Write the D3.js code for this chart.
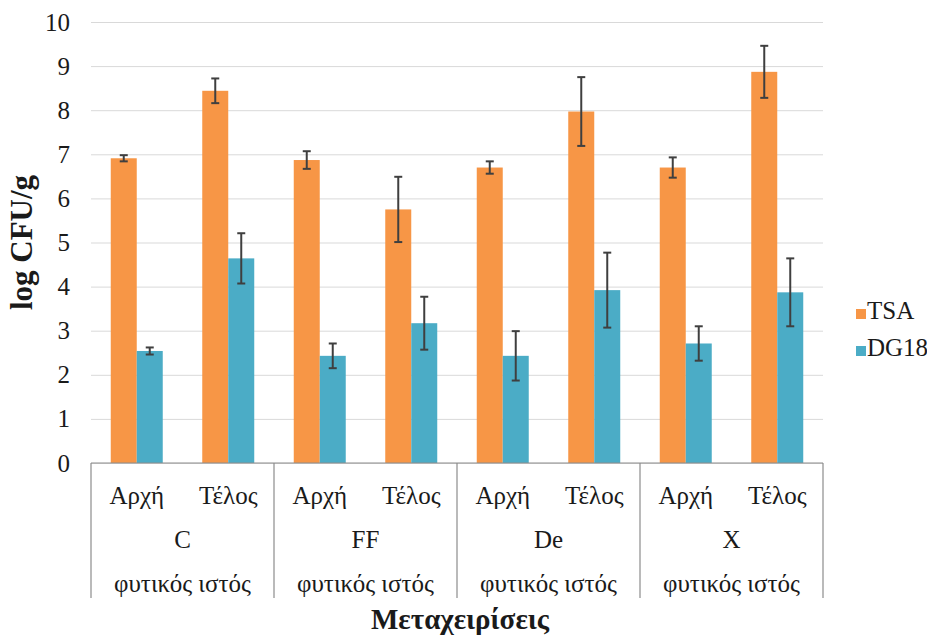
<!DOCTYPE html>
<html>
<head>
<meta charset="utf-8">
<script src="https://cdn.jsdelivr.net/npm/d3@7"></script>
<style>
  html, body { margin: 0; padding: 0; background: #fff; }
  svg { display: block; }
</style>
</head>
<body>
<svg id="chart" width="927" height="639"></svg>
<script>
// Treatments, sampling stages and media
const groups = ["C", "FF", "De", "X"];
const stages = ["Αρχή", "Τέλος"];
const seriesNames = ["TSA", "DG18"];
const tissueLabel = "φυτικός ιστός";

// Means (log CFU/g) per treatment × stage, in order C-Αρχή, C-Τέλος, FF-Αρχή, ...
const tsaMeans  = [6.91, 8.44, 6.87, 5.75, 6.70, 7.97, 6.70, 8.87];
const tsaErr    = [0.07, 0.28, 0.20, 0.74, 0.14, 0.78, 0.23, 0.59];
const dg18Means = [2.54, 4.64, 2.43, 3.17, 2.43, 3.92, 2.71, 3.87];
const dg18Err   = [0.08, 0.57, 0.28, 0.60, 0.56, 0.85, 0.39, 0.77];

const yTicks = [0, 1, 2, 3, 4, 5, 6, 7, 8, 9, 10];
const yLabel = "log CFU/g";
const xLabel = "Μεταχειρίσεις";

const colors = { TSA: "#F79646", DG18: "#4BACC6" };
const serif = "'Liberation Serif', 'Times New Roman', Times, serif";
const textColor = "#1a1a1a";

const svg = d3.select("#chart");
const plotLeft = 91, plotRight = 823, plotTop = 22, plotBottom = 463;
const fs = 25;

const y = d3.scaleLinear().domain([0, 10]).range([plotBottom, plotTop]);

// Flat band over treatment|stage keys, with a group band for the second level
const keys = [];
groups.forEach(g => stages.forEach(s => keys.push(g + "|" + s)));
const xKey = d3.scaleBand().domain(keys).range([plotLeft, plotRight]);
const xGroup = d3.scaleBand().domain(groups).range([plotLeft, plotRight]);
const xSeries = d3.scaleBand().domain(seriesNames)
  .range([0, xKey.bandwidth()]).paddingInner(0).paddingOuter(0.76);

function styleText(sel, size, weight) {
  sel.style("font-family", serif).style("font-size", size + "px")
    .style("font-weight", weight || "normal").style("fill", textColor);
}

// Gridlines and y tick labels
const yAxis = svg.append("g")
  .attr("transform", `translate(${plotLeft},0)`)
  .call(d3.axisLeft(y).tickValues(yTicks).tickSize(-(plotRight - plotLeft)).tickPadding(21));
yAxis.select(".domain").remove();
yAxis.selectAll(".tick line").attr("stroke", "#d9d9d9").attr("stroke-width", 1);
styleText(yAxis.selectAll(".tick text"), fs);

// Bars
const rows = keys.map((k, i) => ({
  key: k,
  vals: [
    { s: "TSA", v: tsaMeans[i], e: tsaErr[i] },
    { s: "DG18", v: dg18Means[i], e: dg18Err[i] }
  ]
}));

const cat = svg.append("g").selectAll("g").data(rows).join("g")
  .attr("transform", d => `translate(${xKey(d.key)},0)`);

cat.selectAll("rect").data(d => d.vals).join("rect")
  .attr("x", d => xSeries(d.s))
  .attr("width", xSeries.bandwidth())
  .attr("y", d => y(d.v))
  .attr("height", d => y(0) - y(d.v))
  .attr("fill", d => colors[d.s]);

// Error bars
const eb = cat.selectAll("g.err").data(d => d.vals).join("g").attr("class", "err")
  .attr("stroke", "#3f3f3f").attr("stroke-width", 2);
const cx = d => xSeries(d.s) + xSeries.bandwidth() / 2;
eb.append("line").attr("x1", cx).attr("x2", cx)
  .attr("y1", d => y(d.v + d.e)).attr("y2", d => y(d.v - d.e));
eb.append("line").attr("x1", d => cx(d) - 4).attr("x2", d => cx(d) + 4)
  .attr("y1", d => y(d.v + d.e)).attr("y2", d => y(d.v + d.e));
eb.append("line").attr("x1", d => cx(d) - 4).attr("x2", d => cx(d) + 4)
  .attr("y1", d => y(d.v - d.e)).attr("y2", d => y(d.v - d.e));

// Multi-level category axis
const lineColor = "#8c8c8c";
const boxBottom = 598;
svg.append("line").attr("x1", plotLeft).attr("x2", plotRight).attr("y1", y(0)).attr("y2", y(0))
  .attr("stroke", lineColor).attr("stroke-width", 1.2);
const dividers = groups.map(g => xGroup(g)).concat([plotRight]);
svg.append("g").selectAll("line").data(dividers).join("line")
  .attr("x1", d => d).attr("x2", d => d)
  .attr("y1", y(0)).attr("y2", boxBottom)
  .attr("stroke", lineColor).attr("stroke-width", 1.2);

// Each level is a band axis; tickPadding sets the row's baseline below the plot
function levelAxis(scale, fmt, baseline) {
  const pad = baseline - plotBottom - 0.71 * fs;
  const g = svg.append("g").attr("transform", `translate(0,${plotBottom})`)
    .call(d3.axisBottom(scale).tickSize(0).tickPadding(pad).tickFormat(fmt));
  g.select(".domain").remove();
  styleText(g.selectAll("text"), fs);
  return g;
}
levelAxis(xKey, k => k.split("|")[1], 504);
levelAxis(xGroup, g => g, 548);
levelAxis(xGroup, () => tissueLabel, 592);

// Axis titles
const yTitle = svg.append("text")
  .attr("transform", `translate(32,${(plotTop + plotBottom) / 2}) rotate(-90)`)
  .attr("text-anchor", "middle")
  .text(yLabel);
styleText(yTitle, 31, "bold");

const xTitle = svg.append("text")
  .attr("x", 460).attr("y", 629)
  .attr("text-anchor", "middle")
  .text(xLabel);
styleText(xTitle, 29, "bold");

// Legend
const legend = svg.append("g").selectAll("g").data(seriesNames).join("g")
  .attr("transform", (d, i) => `translate(856,${309 + i * 37})`);
legend.append("rect").attr("width", 10).attr("height", 10).attr("fill", d => colors[d]);
styleText(legend.append("text").attr("x", 11).attr("y", 9.5).text(d => d), fs);
</script>
</body>
</html>
